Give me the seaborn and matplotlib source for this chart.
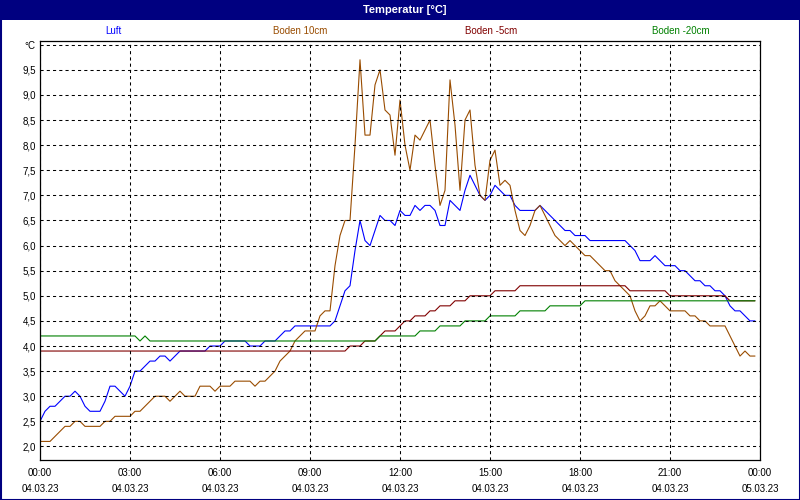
import numpy as np
import pandas as pd
import matplotlib
matplotlib.use("Agg")
import matplotlib.pyplot as plt
import seaborn as sns
from matplotlib.patches import Rectangle
from matplotlib.ticker import FixedLocator, MultipleLocator

# ---------------- data ----------------
series_names = ["Luft", "Boden 10cm", "Boden -5cm", "Boden -20cm"]
series_colors = ["#0000FF", "#994C00", "#800000", "#008000"]
title_text = "Temperatur [°C]"

sample_step_min = 10  # one reading every 10 minutes, 00:00 .. 23:50

luft = [2.5, 2.7, 2.8, 2.8, 2.9, 3.0, 3.0, 3.1, 3.0, 2.8, 2.7, 2.7, 2.7, 2.9, 3.2, 3.2,
        3.1, 3.0, 3.2, 3.5, 3.5, 3.6, 3.7, 3.7, 3.8, 3.8, 3.7, 3.8, 3.9, 3.9, 3.9, 3.9,
        3.9, 3.9, 4.0, 4.0, 4.0, 4.1, 4.1, 4.1, 4.1, 4.1, 4.0, 4.0, 4.0, 4.1, 4.1, 4.1,
        4.2, 4.3, 4.3, 4.4, 4.4, 4.4, 4.4, 4.4, 4.4, 4.4, 4.4, 4.5, 4.8, 5.1, 5.2, 5.9,
        6.5, 6.1, 6.0, 6.3, 6.6, 6.5, 6.5, 6.4, 6.7, 6.6, 6.6, 6.8, 6.7, 6.8, 6.8, 6.7,
        6.4, 6.4, 6.9, 6.8, 6.7, 7.1, 7.4, 7.2, 7.0, 6.9, 7.0, 7.2, 7.1, 7.0, 7.0, 6.8,
        6.7, 6.7, 6.7, 6.7, 6.8, 6.7, 6.6, 6.5, 6.4, 6.3, 6.3, 6.2, 6.2, 6.2, 6.1, 6.1,
        6.1, 6.1, 6.1, 6.1, 6.1, 6.1, 6.0, 5.9, 5.7, 5.7, 5.7, 5.8, 5.7, 5.6, 5.6, 5.6,
        5.5, 5.5, 5.4, 5.3, 5.3, 5.2, 5.2, 5.1, 5.1, 5.0, 4.8, 4.7, 4.7, 4.6, 4.5, 4.5]

boden_10 = [2.1, 2.1, 2.1, 2.2, 2.3, 2.4, 2.4, 2.5, 2.5, 2.4, 2.4, 2.4, 2.4, 2.5, 2.5, 2.6,
            2.6, 2.6, 2.6, 2.7, 2.7, 2.8, 2.9, 3.0, 3.0, 3.0, 2.9, 3.0, 3.1, 3.0, 3.0, 3.0,
            3.2, 3.2, 3.2, 3.1, 3.2, 3.2, 3.2, 3.3, 3.3, 3.3, 3.3, 3.2, 3.3, 3.3, 3.4, 3.5,
            3.7, 3.8, 3.9, 4.1, 4.2, 4.3, 4.3, 4.3, 4.6, 4.7, 4.7, 5.6, 6.2, 6.5, 6.5, 8.0,
            9.7, 8.2, 8.2, 9.2, 9.5, 8.7, 8.6, 7.8, 8.9, 8.0, 7.5, 8.2, 8.1, 8.3, 8.5, 7.6,
            6.8, 7.1, 9.3, 8.4, 7.1, 8.5, 8.7, 7.6, 7.0, 6.9, 7.7, 7.9, 7.2, 7.3, 7.2, 6.7,
            6.3, 6.2, 6.4, 6.7, 6.8, 6.6, 6.4, 6.2, 6.1, 6.0, 6.1, 6.0, 5.9, 5.8, 5.8, 5.7,
            5.6, 5.5, 5.5, 5.3, 5.2, 5.1, 5.0, 4.7, 4.5, 4.6, 4.8, 4.8, 4.9, 4.8, 4.7, 4.7,
            4.7, 4.7, 4.6, 4.6, 4.5, 4.5, 4.4, 4.4, 4.4, 4.4, 4.2, 4.0, 3.8, 3.9, 3.8, 3.8]

boden_m5 = [3.9, 3.9, 3.9, 3.9, 3.9, 3.9, 3.9, 3.9, 3.9, 3.9, 3.9, 3.9, 3.9, 3.9, 3.9, 3.9,
            3.9, 3.9, 3.9, 3.9, 3.9, 3.9, 3.9, 3.9, 3.9, 3.9, 3.9, 3.9, 3.9, 3.9, 3.9, 3.9,
            3.9, 3.9, 3.9, 3.9, 3.9, 3.9, 3.9, 3.9, 3.9, 3.9, 3.9, 3.9, 3.9, 3.9, 3.9, 3.9,
            3.9, 3.9, 3.9, 3.9, 3.9, 3.9, 3.9, 3.9, 3.9, 3.9, 3.9, 3.9, 3.9, 3.9, 4.0, 4.0,
            4.0, 4.1, 4.1, 4.1, 4.2, 4.3, 4.3, 4.3, 4.4, 4.5, 4.5, 4.6, 4.6, 4.6, 4.7, 4.7,
            4.8, 4.8, 4.8, 4.9, 4.9, 4.9, 5.0, 5.0, 5.0, 5.0, 5.0, 5.1, 5.1, 5.1, 5.1, 5.1,
            5.2, 5.2, 5.2, 5.2, 5.2, 5.2, 5.2, 5.2, 5.2, 5.2, 5.2, 5.2, 5.2, 5.2, 5.2, 5.2,
            5.2, 5.2, 5.2, 5.2, 5.2, 5.2, 5.1, 5.1, 5.1, 5.1, 5.1, 5.1, 5.1, 5.1, 5.0, 5.0,
            5.0, 5.0, 5.0, 5.0, 5.0, 5.0, 5.0, 5.0, 5.0, 5.0, 4.9, 4.9, 4.9, 4.9, 4.9, 4.9]

boden_m20 = [4.2, 4.2, 4.2, 4.2, 4.2, 4.2, 4.2, 4.2, 4.2, 4.2, 4.2, 4.2, 4.2, 4.2, 4.2, 4.2,
             4.2, 4.2, 4.2, 4.2, 4.1, 4.2, 4.1, 4.1, 4.1, 4.1, 4.1, 4.1, 4.1, 4.1, 4.1, 4.1,
             4.1, 4.1, 4.1, 4.1, 4.1, 4.1, 4.1, 4.1, 4.1, 4.1, 4.1, 4.1, 4.1, 4.1, 4.1, 4.1,
             4.1, 4.1, 4.1, 4.1, 4.1, 4.1, 4.1, 4.1, 4.1, 4.1, 4.1, 4.1, 4.1, 4.1, 4.1, 4.1,
             4.1, 4.1, 4.1, 4.1, 4.2, 4.2, 4.2, 4.2, 4.2, 4.2, 4.2, 4.2, 4.3, 4.3, 4.3, 4.3,
             4.4, 4.4, 4.4, 4.4, 4.4, 4.5, 4.5, 4.5, 4.5, 4.5, 4.6, 4.6, 4.6, 4.6, 4.6, 4.6,
             4.7, 4.7, 4.7, 4.7, 4.7, 4.7, 4.8, 4.8, 4.8, 4.8, 4.8, 4.8, 4.8, 4.9, 4.9, 4.9,
             4.9, 4.9, 4.9, 4.9, 4.9, 4.9, 4.9, 4.9, 4.9, 4.9, 4.9, 4.9, 4.9, 4.9, 4.9, 4.9,
             4.9, 4.9, 4.9, 4.9, 4.9, 4.9, 4.9, 4.9, 4.9, 4.9, 4.9, 4.9, 4.9, 4.9, 4.9, 4.9]

x_tick_hours = [0, 3, 6, 9, 12, 15, 18, 21, 24]
x_tick_times = ["00:00", "03:00", "06:00", "09:00", "12:00", "15:00", "18:00", "21:00", "00:00"]
x_tick_dates = ["04.03.23", "04.03.23", "04.03.23", "04.03.23", "04.03.23",
                "04.03.23", "04.03.23", "04.03.23", "05.03.23"]
y_ticks = [2.0, 2.5, 3.0, 3.5, 4.0, 4.5, 5.0, 5.5, 6.0, 6.5, 7.0, 7.5, 8.0, 8.5, 9.0, 9.5, 10.0]
y_tick_labels = ["2,0", "2,5", "3,0", "3,5", "4,0", "4,5", "5,0", "5,5", "6,0", "6,5",
                 "7,0", "7,5", "8,0", "8,5", "9,0", "9,5", "°C"]

# ---------------- build table ----------------
all_series = [luft, boden_10, boden_m5, boden_m20]
n = len(luft)
hours = np.arange(n) * sample_step_min / 60.0
df = pd.DataFrame({
    "Stunde": np.concatenate([hours] * len(all_series)),
    "Temperatur": np.concatenate([np.asarray(s, float) for s in all_series]),
    "Reihe": np.repeat(series_names, n),
})

# ---------------- figure ----------------
sns.set_style("white")
plt.rcParams["font.family"] = ["Liberation Sans", "DejaVu Sans"]

W, H = 800, 500
fig = plt.figure(figsize=(8, 5), dpi=100)
fig.patch.set_facecolor("white")

navy = "#000080"
# title bar
fig.patches.append(Rectangle((0, 1 - 20 / H), 1, 20 / H, transform=fig.transFigure,
                             facecolor=navy, edgecolor="none", zorder=0))
# outer frame
fig.patches.append(Rectangle((0.5 / W, 0.5 / H), 1 - 1 / W, 1 - 1 / H, transform=fig.transFigure,
                             facecolor="none", edgecolor=navy, linewidth=1.5, zorder=5))
fig.text(405 / W, 1 - 10 / H, title_text, color="white", fontsize=8, fontweight="bold",
         ha="center", va="center")

legend_x = [113, 300, 491, 681]
for name, col, lx in zip(series_names, series_colors, legend_x):
    fig.text(lx / W, 1 - 30.5 / H, name, color=col, fontsize=7, ha="center", va="center")

ax = fig.add_axes([40 / W, 1 - 460 / H, 720 / W, (460 - 40.7) / H])
sns.lineplot(data=df, x="Stunde", y="Temperatur", hue="Reihe", hue_order=series_names,
             palette=dict(zip(series_names, series_colors)), estimator=None,
             linewidth=0.8, legend=False, ax=ax)

ax.set_xlim(0, 24)
ax.set_ylim(1.73, 10.08)
ax.set_xlabel("")
ax.set_ylabel("")

ax.xaxis.set_major_locator(FixedLocator(x_tick_hours))
ax.set_xticklabels([f"{t}\n{d}" for t, d in zip(x_tick_times, x_tick_dates)])
ax.xaxis.set_minor_locator(MultipleLocator(1))
ax.yaxis.set_major_locator(FixedLocator(y_ticks))
ax.set_yticklabels(y_tick_labels)

ax.tick_params(axis="x", which="both", direction="out", length=3, width=0.75,
               color="black", labelsize=7, labelcolor="black", pad=3)
ax.tick_params(axis="y", which="both", length=0, labelsize=7, labelcolor="black", pad=3)
for lab in ax.get_xticklabels():
    lab.set_linespacing(1.7)

for sp in ax.spines.values():
    sp.set_visible(True)
    sp.set_color("black")
    sp.set_linewidth(0.9)

ax.set_axisbelow(False)
ax.grid(True, which="major", axis="both", color="black", linewidth=0.75,
        linestyle=(0, (3, 3)))

fig.savefig("out.png", dpi=100)
